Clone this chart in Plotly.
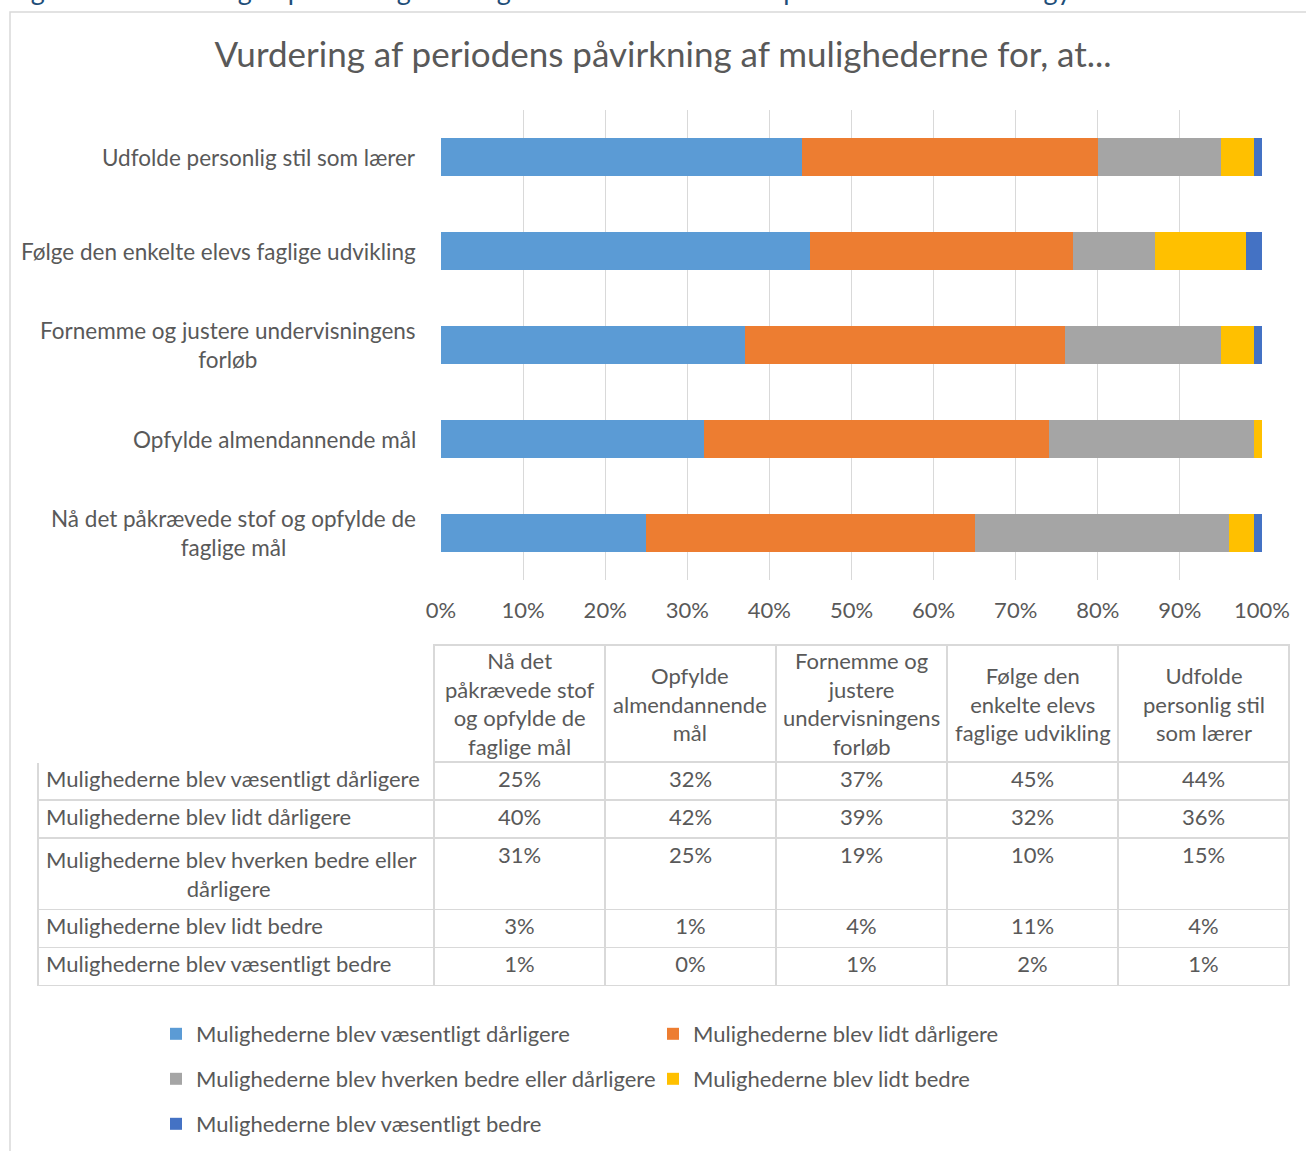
import plotly.graph_objects as go

W, H = 1306, 1151

title_text = "Vurdering af periodens påvirkning af mulighederne for, at..."
caption_text = "Figur 14 – Vurdering af påvirkning af mulighederne for at udfolde professionalisme som gymnasielærere"

categories = [
    "Nå det påkrævede stof og opfylde de faglige mål",
    "Opfylde almendannende mål",
    "Fornemme og justere undervisningens forløb",
    "Følge den enkelte elevs faglige udvikling",
    "Udfolde personlig stil som lærer",
]
axis_labels = [
    "Nå det påkrævede stof og opfylde de<br>faglige mål",
    "Opfylde almendannende mål",
    "Fornemme og justere undervisningens<br>forløb",
    "Følge den enkelte elevs faglige udvikling",
    "Udfolde personlig stil som lærer",
]
table_headers = [
    "Nå det<br>påkrævede stof<br>og opfylde de<br>faglige mål",
    "Opfylde<br>almendannende<br>mål",
    "Fornemme og<br>justere<br>undervisningens<br>forløb",
    "Følge den<br>enkelte elevs<br>faglige udvikling",
    "Udfolde<br>personlig stil<br>som lærer",
]
series_names = [
    "Mulighederne blev væsentligt dårligere",
    "Mulighederne blev lidt dårligere",
    "Mulighederne blev hverken bedre eller dårligere",
    "Mulighederne blev lidt bedre",
    "Mulighederne blev væsentligt bedre",
]
table_row_labels = [
    "Mulighederne blev væsentligt dårligere",
    "Mulighederne blev lidt dårligere",
    ["Mulighederne blev hverken bedre eller", "dårligere"],
    "Mulighederne blev lidt bedre",
    "Mulighederne blev væsentligt bedre",
]
vaesentligt_darligere = [25, 32, 37, 45, 44]
lidt_darligere = [40, 42, 39, 32, 36]
hverken = [31, 25, 19, 10, 15]
lidt_bedre = [3, 1, 4, 11, 4]
vaesentligt_bedre = [1, 0, 1, 2, 1]
series_values = [vaesentligt_darligere, lidt_darligere, hverken, lidt_bedre, vaesentligt_bedre]
colors = ["#5B9BD5", "#ED7D31", "#A5A5A5", "#FFC000", "#4472C4"]
x_ticks = [0, 10, 20, 30, 40, 50, 60, 70, 80, 90, 100]

FONT = "Lato"
TXT = "#595959"
FS = 22.5
FS_TAB = 22
NBSP = "\u00a0"

def px_x(p):
    return p / W

def px_y(p):
    return 1 - p / H

def label_cell(lab):
    # keep labels on one line (no auto-wrap); wrapped label gets a roughly centred 2nd line
    if isinstance(lab, list):
        return lab[0].replace(" ", NBSP) + "<br>" + NBSP * 25 + lab[1]
    return lab.replace(" ", NBSP)

fig = go.Figure()
legend_ids = ["legend", "legend", "legend2", "legend2", "legend3"]
for name, vals, col, lg in zip(series_names, series_values, colors, legend_ids):
    fig.add_trace(go.Bar(
        y=categories, x=vals, name=name, orientation="h",
        marker=dict(color=col, line=dict(width=0)),
        legend=lg,
    ))

# table
TAB_X0 = 38
COLW = [396, 171, 171, 171, 171, 171]
TAB_X1 = TAB_X0 + sum(COLW)
HEAD_Y0, HEAD_Y1 = 645, 762
cell_values = [[label_cell(l) for l in table_row_labels]] + \
    [[f"{series_values[s][c]}%" for s in range(5)] for c in range(5)]
fig.add_trace(go.Table(
    domain=dict(x=[px_x(TAB_X0), px_x(TAB_X1)], y=[px_y(990), px_y(HEAD_Y0)]),
    columnwidth=COLW,
    header=dict(
        values=[""] * 6,
        align="center",
        fill=dict(color="white"),
        line=dict(color=["white"] + ["#d9d9d9"] * 5, width=1.5),
        font=dict(family=FONT, size=FS_TAB, color=TXT),
        height=HEAD_Y1 - HEAD_Y0,
    ),
    cells=dict(
        values=cell_values,
        align=["left"] + ["center"] * 5,
        fill=dict(color="white"),
        line=dict(color="#d9d9d9", width=1.5),
        font=dict(family=FONT, size=FS_TAB, color=TXT),
        height=38,
    ),
))

annotations = []
# header labels (centred line by line)
x_left = TAB_X0 + COLW[0]
for i, htxt in enumerate(table_headers):
    cx = x_left + sum(COLW[1:i + 1]) + COLW[i + 1] / 2
    annotations.append(dict(
        x=px_x(cx), xref="paper", y=px_y((HEAD_Y0 + HEAD_Y1) / 2), yref="paper",
        text=htxt, showarrow=False, xanchor="center", yanchor="middle", align="center",
        font=dict(family=FONT, size=FS_TAB, color=TXT),
    ))
for cat, lab in zip(categories, axis_labels):
    annotations.append(dict(
        x=px_x(418), xref="paper", y=cat, yref="y", text=lab,
        showarrow=False, xanchor="right", align="center",
        font=dict(family=FONT, size=FS, color=TXT),
    ))
annotations.append(dict(
    x=px_x(7), xref="paper", y=px_y(8), yref="paper", text=caption_text,
    showarrow=False, xanchor="left", yanchor="bottom",
    font=dict(family=FONT, size=27, color="#1F4E79"),
))

leg_common = dict(orientation="h", font=dict(family=FONT, size=FS_TAB, color=TXT),
                  bgcolor="rgba(0,0,0,0)", entrywidth=452, xanchor="left",
                  yanchor="middle", traceorder="normal",
                  itemclick=False, itemdoubleclick=False)

fig.update_layout(
    width=W, height=H,
    margin=dict(l=0, r=0, t=0, b=0, autoexpand=False),
    paper_bgcolor="white", plot_bgcolor="white",
    barmode="stack", bargap=0.596,
    showlegend=True,
    title=dict(text=title_text, x=px_x(663), xanchor="center", y=px_y(55), yanchor="middle",
               font=dict(family=FONT, size=35, color=TXT)),
    xaxis=dict(domain=[px_x(441), px_x(1262)], range=[0, 100], tickvals=x_ticks,
               ticktext=[f"{v}%" for v in x_ticks], showgrid=True, gridcolor="#d9d9d9",
               gridwidth=1, zeroline=False, showline=False, ticks="",
               ticklabelstandoff=15,
               tickfont=dict(family=FONT, size=22, color=TXT), fixedrange=True),
    yaxis=dict(domain=[px_y(580), px_y(110)], showticklabels=False, showgrid=False,
               zeroline=False, showline=False, fixedrange=True,
               categoryorder="array", categoryarray=categories),
    legend=dict(x=px_x(156), y=px_y(1034), **leg_common),
    legend2=dict(x=px_x(156), y=px_y(1079), **leg_common),
    legend3=dict(x=px_x(156), y=px_y(1124), **leg_common),
    annotations=annotations,
    shapes=[dict(type="rect", xref="paper", yref="paper",
                 x0=px_x(10), x1=1.02, y0=-0.02, y1=px_y(12),
                 line=dict(color="#d9d9d9", width=1.5), fillcolor="rgba(0,0,0,0)", layer="below")],
)

fig.write_html("out.html", config={"displayModeBar": False},
               post_script="document.body.style.margin='0';document.body.style.overflow='hidden';")
